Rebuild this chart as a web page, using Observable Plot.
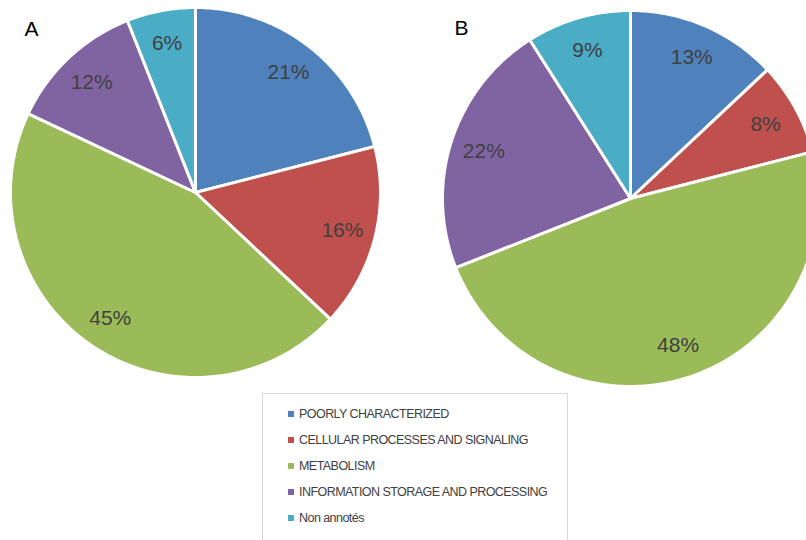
<!DOCTYPE html>
<html>
<head>
<meta charset="utf-8">
<script src="https://cdn.jsdelivr.net/npm/d3@7"></script>
<script src="https://cdn.jsdelivr.net/npm/@observablehq/plot@0.6"></script>
<style>
  html, body { margin: 0; padding: 0; background: #fff; overflow: hidden; }
  #chart svg { overflow: hidden; }
  .legend {
    margin-left: 262px; margin-top: 1px; width: 306px; height: 150px; box-sizing: border-box;
    border: 1px solid #d9d9d9; padding-top: 12px;
    font-family: "Liberation Sans", sans-serif; font-size: 12.5px; letter-spacing: -0.55px; color: #404040;
  }
  .legend .item { height: 26px; line-height: 16px; padding-left: 25px; display: flex; align-items: flex-start; }
  .legend .sw { width: 6px; height: 6px; margin-right: 5px; margin-top: 5px; flex: none; }
</style>
</head>
<body>
<div id="chart"></div>
<script>
const categories = ["POORLY CHARACTERIZED", "CELLULAR PROCESSES AND SIGNALING", "METABOLISM", "INFORMATION STORAGE AND PROCESSING", "Non annotés"];
const colors = ["#4F81BD", "#C0504D", "#9BBB59", "#8064A2", "#4BACC6"];
const valuesA = [21, 16, 45, 12, 6];
const valuesB = [13, 8, 48, 22, 9];
const panelLabels = ["A", "B"];

// layout constants
const W = 806, H = 392;
const pies = [
  {name: "A", values: valuesA, cx: 195, cy: 192, r: 185, labelX: 31, labelY: 29},
  {name: "B", values: valuesB, cx: 630, cy: 198, r: 188, labelX: 461, labelY: 28}
];

const slicePts = [];
const labels = [];
for (const p of pies) {
  const arcs = d3.pie().sort(null).value(d => d)(p.values);
  arcs.forEach((a, i) => {
    const key = p.name + i;
    slicePts.push({key, cat: categories[i], x: p.cx, y: p.cy});
    const n = Math.max(8, Math.ceil((a.endAngle - a.startAngle) * 60));
    for (let k = 0; k <= n; k++) {
      const t = a.startAngle + (a.endAngle - a.startAngle) * k / n;
      slicePts.push({key, cat: categories[i], x: p.cx + p.r * Math.sin(t), y: p.cy - p.r * Math.cos(t)});
    }
    const m = (a.startAngle + a.endAngle) / 2;
    labels.push({text: p.values[i] + "%", x: p.cx + 0.82 * p.r * Math.sin(m), y: p.cy - 0.82 * p.r * Math.cos(m)});
  });
}
const panels = pies.map((p, i) => ({text: panelLabels[i], x: p.labelX, y: p.labelY}));

const plot = Plot.plot({
  width: W, height: H,
  margin: 0,
  x: {domain: [0, W], range: [0, W], axis: null},
  y: {domain: [0, H], range: [0, H], axis: null},
  color: {domain: categories, range: colors},
  style: {background: "#fff"},
  marks: [
    Plot.line(slicePts, {x: "x", y: "y", z: "key", fill: "cat", stroke: "white", strokeWidth: 3, curve: "linear-closed", strokeLinejoin: "round"}),
    Plot.text(labels, {x: "x", y: "y", text: "text", fill: "#404040", fontSize: 21, fontFamily: "Liberation Sans, sans-serif"}),
    Plot.text(panels, {x: "x", y: "y", text: "text", fill: "#000", fontSize: 21, fontFamily: "Liberation Sans, sans-serif"})
  ]
});
document.getElementById("chart").appendChild(plot);

const legend = document.createElement("div");
legend.className = "legend";
categories.forEach((c, i) => {
  const it = document.createElement("div");
  it.className = "item";
  const sw = document.createElement("span");
  sw.className = "sw";
  sw.style.background = colors[i];
  const tx = document.createElement("span");
  tx.textContent = c;
  it.appendChild(sw); it.appendChild(tx);
  legend.appendChild(it);
});
document.body.appendChild(legend);
</script>
</body>
</html>
